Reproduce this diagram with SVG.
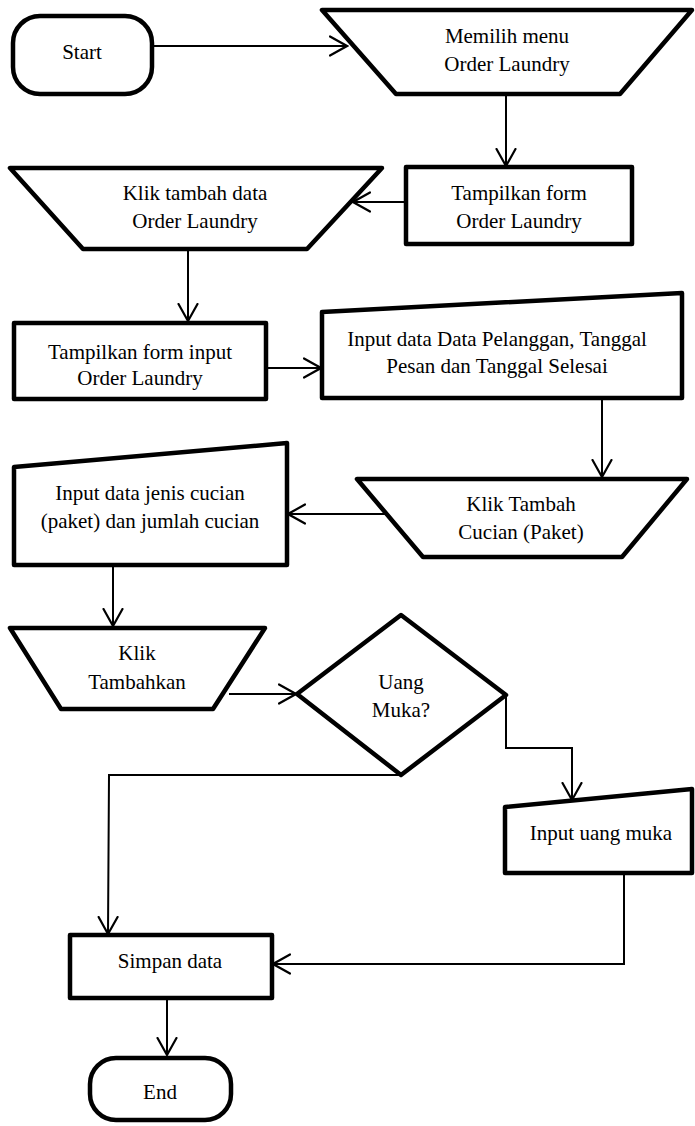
<svg xmlns="http://www.w3.org/2000/svg" width="695" height="1126" viewBox="0 0 695 1126">
  <style>
    .shape { fill: #ffffff; stroke: #000000; stroke-width: 4.5; stroke-linejoin: round; }
    .conn { fill: none; stroke: #000000; stroke-width: 2; }
    .lbl { font-family: "Liberation Serif", "Times New Roman", serif; font-size: 21px; fill: #000000; text-anchor: middle; }
  </style>
  <defs>
    <marker id="arrow" viewBox="0 0 20 22" refX="18" refY="11" markerWidth="20" markerHeight="22" markerUnits="userSpaceOnUse" orient="auto">
      <path d="M1,1.5 L18,11 L1,20.5" fill="none" stroke="#000000" stroke-width="2.2" stroke-linecap="round"/>
    </marker>
  </defs>
  <rect width="695" height="1126" fill="#ffffff"/>

  <!-- connectors -->
  <g id="connectors">
    <line class="conn" x1="153" y1="46" x2="347" y2="46" marker-end="url(#arrow)"/>
    <line class="conn" x1="506" y1="94" x2="506" y2="166" marker-end="url(#arrow)"/>
    <line class="conn" x1="406" y1="202" x2="353" y2="202" marker-end="url(#arrow)"/>
    <line class="conn" x1="188" y1="249" x2="188" y2="321" marker-end="url(#arrow)"/>
    <line class="conn" x1="266" y1="368" x2="321" y2="368" marker-end="url(#arrow)"/>
    <line class="conn" x1="602" y1="398" x2="602" y2="477" marker-end="url(#arrow)"/>
    <line class="conn" x1="385" y1="514" x2="288" y2="514" marker-end="url(#arrow)"/>
    <line class="conn" x1="113" y1="565" x2="113" y2="626" marker-end="url(#arrow)"/>
    <line class="conn" x1="229" y1="694" x2="296" y2="694" marker-end="url(#arrow)"/>
    <polyline class="conn" points="506,695 506,748 572,748 572,800" marker-end="url(#arrow)"/>
    <polyline class="conn" points="401,775 109,775 108,934" marker-end="url(#arrow)"/>
    <polyline class="conn" points="624,873 624,964 273,964" marker-end="url(#arrow)"/>
    <line class="conn" x1="167" y1="998" x2="167" y2="1055" marker-end="url(#arrow)"/>
  </g>

  <!-- terminal: Start -->
  <g id="start">
    <rect class="shape" x="13" y="16" width="139" height="78" rx="27" ry="27"/>
    <text class="lbl" x="82" y="59">Start</text>
  </g>

  <!-- manual operation: Memilih menu -->
  <g id="memilih-menu">
    <polygon class="shape" points="322,10 692,10 620,94 396,94"/>
    <text class="lbl" x="507" y="43">Memilih menu</text>
    <text class="lbl" x="507" y="71">Order Laundry</text>
  </g>

  <!-- process: Tampilkan form -->
  <g id="tampilkan-form">
    <rect class="shape" x="406" y="167" width="226" height="77"/>
    <text class="lbl" x="519" y="200">Tampilkan form</text>
    <text class="lbl" x="519" y="228">Order Laundry</text>
  </g>

  <!-- manual operation: Klik tambah data -->
  <g id="klik-tambah-data">
    <polygon class="shape" points="10,168 382,168 307,249 83,249"/>
    <text class="lbl" x="195" y="200">Klik tambah data</text>
    <text class="lbl" x="195" y="228">Order Laundry</text>
  </g>

  <!-- process: Tampilkan form input -->
  <g id="tampilkan-form-input">
    <rect class="shape" x="14" y="323" width="252" height="76"/>
    <text class="lbl" x="140" y="359">Tampilkan form input</text>
    <text class="lbl" x="140" y="385">Order Laundry</text>
  </g>

  <!-- manual input: data pelanggan -->
  <g id="input-data-pelanggan">
    <polygon class="shape" points="322,312 682,293 682,398 322,398"/>
    <text class="lbl" x="497" y="346">Input data Data Pelanggan, Tanggal</text>
    <text class="lbl" x="497" y="373">Pesan dan Tanggal Selesai</text>
  </g>

  <!-- manual operation: Klik Tambah Cucian -->
  <g id="klik-tambah-cucian">
    <polygon class="shape" points="357,479 687,479 622,557 423,557"/>
    <text class="lbl" x="521" y="511">Klik Tambah</text>
    <text class="lbl" x="521" y="539">Cucian (Paket)</text>
  </g>

  <!-- manual input: jenis cucian -->
  <g id="input-jenis-cucian">
    <polygon class="shape" points="14,467 287,443 287,565 14,565"/>
    <text class="lbl" x="150" y="500">Input data jenis cucian</text>
    <text class="lbl" x="150" y="528">(paket) dan jumlah cucian</text>
  </g>

  <!-- manual operation: Klik Tambahkan -->
  <g id="klik-tambahkan">
    <polygon class="shape" points="10,628 265,628 213,709 61,709"/>
    <text class="lbl" x="137" y="660">Klik</text>
    <text class="lbl" x="137" y="689">Tambahkan</text>
  </g>

  <!-- decision: Uang Muka? -->
  <g id="uang-muka">
    <polygon class="shape" points="297,694 401,615 506,695 401,775"/>
    <text class="lbl" x="401" y="689">Uang</text>
    <text class="lbl" x="401" y="717">Muka?</text>
  </g>

  <!-- manual input: uang muka -->
  <g id="input-uang-muka">
    <polygon class="shape" points="505,807 692,789 692,873 505,873"/>
    <text class="lbl" x="601" y="840">Input uang muka</text>
  </g>

  <!-- process: Simpan data -->
  <g id="simpan-data">
    <rect class="shape" x="70" y="935" width="202" height="63"/>
    <text class="lbl" x="170" y="968">Simpan data</text>
  </g>

  <!-- terminal: End -->
  <g id="end">
    <rect class="shape" x="90" y="1058" width="141" height="62" rx="26" ry="26"/>
    <text class="lbl" x="160" y="1099">End</text>
  </g>
</svg>
